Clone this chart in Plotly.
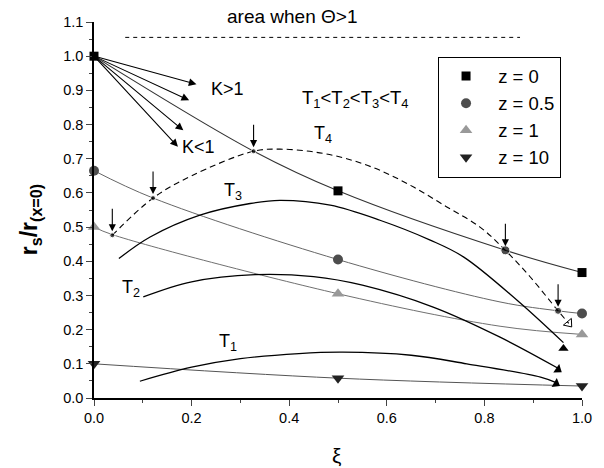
import plotly.graph_objects as go

# ---------------- data ----------------
z_labels = ["z = 0", "z = 0.5", "z = 1", "z = 10"]
xi_markers = [0.0, 0.5, 1.0]
z0_vals = [1.0, 0.606, 0.367]
z05_vals = [0.665, 0.405, 0.247]
z1_vals = [0.5, 0.305, 0.186]
z10_vals = [0.1, 0.058, 0.035]

# smooth z curves
z0_line_x = [0.0, 0.327, 0.5, 0.843, 1.0]
z0_line_y = [1.0, 0.722, 0.606, 0.432, 0.367]
z05_line_x = [0.0, 0.121, 0.5, 0.832, 0.951, 1.0]
z05_line_y = [0.665, 0.585, 0.405, 0.281, 0.255, 0.247]
z1_line_x = [0.0, 0.0375, 0.5, 0.832, 1.0]
z1_line_y = [0.5, 0.478, 0.305, 0.21, 0.186]
z10_line_x = [0.0, 0.5, 1.0]
z10_line_y = [0.1, 0.058, 0.035]

# temperature curves
T1_x = [0.094, 0.2, 0.3, 0.42, 0.51, 0.65, 0.764, 0.915, 0.947]
T1_y = [0.049, 0.09, 0.115, 0.13, 0.134, 0.125, 0.1, 0.061, 0.045]
T2_x = [0.101, 0.2, 0.33, 0.45, 0.55, 0.695, 0.832, 0.951]
T2_y = [0.296, 0.34, 0.361, 0.355, 0.33, 0.266, 0.178, 0.087]
T3_x = [0.051, 0.115, 0.217, 0.32, 0.381, 0.484, 0.586, 0.689, 0.757, 0.867, 0.962]
T3_y = [0.408, 0.471, 0.535, 0.569, 0.578, 0.564, 0.52, 0.462, 0.413, 0.286, 0.162]
T4_x = [0.0375, 0.121, 0.2, 0.327, 0.381, 0.45, 0.518, 0.586, 0.655, 0.723, 0.791, 0.843, 0.894, 0.951, 0.973]
T4_y = [0.476, 0.585, 0.65, 0.722, 0.728, 0.72, 0.70, 0.666, 0.617, 0.559, 0.50, 0.432, 0.354, 0.255, 0.218]

# curve-end markers (arrowheads)
T_end_x = [0.947, 0.951, 0.962]
T_end_y = [0.042, 0.083, 0.145]
T_end_angle = [30, 35, 0]
T_end_symbol = ["triangle-right", "triangle-right", "triangle-up"]
T4_end_x = [0.973]
T4_end_y = [0.218]

# intersection points marked with small arrows
cross_x = [0.0375, 0.121, 0.327, 0.843, 0.951]
cross_y = [0.476, 0.585, 0.722, 0.432, 0.255]
cross_size = [5, 5, 5, 9, 7]

# K arrows from (0, 1)
K_origin = (0.0, 1.0)
K_tip_x = [0.21, 0.195, 0.183, 0.172]
K_tip_y = [0.918, 0.871, 0.783, 0.735]

# "area when Theta>1" boundary
area_x = [0.064, 0.873]
area_y = [1.055, 1.055]

x_ticks = [0.0, 0.2, 0.4, 0.6, 0.8, 1.0]
y_ticks = [round(0.1 * i, 1) for i in range(12)]

FONT = "Liberation Sans, Arial, sans-serif"
NB = "\u00a0"

fig = go.Figure()

# z lines
for lx, ly, col, w in [
    (z0_line_x, z0_line_y, "#333333", 1.1),
    (z05_line_x, z05_line_y, "#666666", 1.0),
    (z1_line_x, z1_line_y, "#707070", 1.0),
    (z10_line_x, z10_line_y, "#555555", 1.0),
]:
    fig.add_trace(go.Scatter(x=lx, y=ly, mode="lines", line=dict(color=col, width=w, shape="spline"),
                             showlegend=False, hoverinfo="skip"))

# T curves
for tx, ty in [(T1_x, T1_y), (T2_x, T2_y), (T3_x, T3_y)]:
    fig.add_trace(go.Scatter(x=tx, y=ty, mode="lines", line=dict(color="black", width=1.3, shape="spline"),
                             showlegend=False, hoverinfo="skip"))
fig.add_trace(go.Scatter(x=T4_x, y=T4_y, mode="lines",
                         line=dict(color="black", width=1.1, shape="spline", dash="6px,4px"),
                         showlegend=False, hoverinfo="skip"))

# area dashed line
fig.add_trace(go.Scatter(x=area_x, y=area_y, mode="lines", line=dict(color="black", width=1, dash="4px,4px"),
                         showlegend=False, hoverinfo="skip", cliponaxis=False))

# end markers
fig.add_trace(go.Scatter(x=T_end_x, y=T_end_y, mode="markers",
                         marker=dict(symbol=T_end_symbol, angle=T_end_angle, size=9, color="black"),
                         showlegend=False, hoverinfo="skip", cliponaxis=False))
fig.add_trace(go.Scatter(x=T4_end_x, y=T4_end_y, mode="markers",
                         marker=dict(symbol="triangle-right-open", angle=50, size=9, color="black",
                                     line=dict(width=1, color="black")),
                         showlegend=False, hoverinfo="skip", cliponaxis=False))

# intersection dots
fig.add_trace(go.Scatter(x=cross_x, y=cross_y, mode="markers",
                         marker=dict(symbol="circle", size=cross_size, color="black"),
                         showlegend=False, hoverinfo="skip"))

# z markers (legend)
for vals, name, sym, col, sz in [
    (z0_vals, z_labels[0], "square", "black", 9),
    (z05_vals, z_labels[1], "circle", "#4d4d4d", 10),
    (z1_vals, z_labels[2], "triangle-up", "#999999", 11),
    (z10_vals, z_labels[3], "triangle-down", "#222222", 11),
]:
    fig.add_trace(go.Scatter(x=xi_markers, y=vals, mode="markers", name=NB + name,
                             marker=dict(symbol=sym, size=sz, color=col),
                             cliponaxis=False))

ann = []
# K arrows
for tx, ty in zip(K_tip_x, K_tip_y):
    ann.append(dict(x=tx, y=ty, ax=K_origin[0], ay=K_origin[1], xref="x", yref="y", axref="x", ayref="y",
                    showarrow=True, arrowhead=2, arrowsize=1.4, arrowwidth=1.1, arrowcolor="black", text=""))
# small down arrows
for cx, cy in zip(cross_x, cross_y):
    ann.append(dict(x=cx, y=cy, ax=0, ay=-28, xref="x", yref="y", showarrow=True, arrowhead=2,
                    arrowsize=1.3, arrowwidth=1.1, arrowcolor="black", standoff=4, text=""))

def txt(x, y, s, size=18, xa="center"):
    return dict(x=x, y=y, xref="x", yref="y", text=s, showarrow=False, xanchor=xa, yanchor="middle",
                font=dict(family=FONT, size=size, color="black"))

ann += [
    txt(0.274, 0.905, "K>1"),
    txt(0.215, 0.733, "K<1"),
    txt(0.535, 0.876, "T<sub>1</sub><T<sub>2</sub><T<sub>3</sub><T<sub>4</sub>", size=18.5),
    txt(0.47, 0.77, "T<sub>4</sub>"),
    txt(0.285, 0.605, "T<sub>3</sub>"),
    txt(0.075, 0.32, "T<sub>2</sub>"),
    txt(0.275, 0.162, "T<sub>1</sub>"),
    dict(x=0.406, y=1.015, xref="paper", yref="paper", text="area when Θ>1", showarrow=False,
         yanchor="middle", font=dict(family=FONT, size=19, color="black")),
    dict(x=-0.131, y=0.473, xref="paper", yref="paper", text="<b>r<sub>s</sub>/r<sub>(x=0)</sub></b>",
         textangle=-90, showarrow=False, xanchor="center", yanchor="middle",
         font=dict(family=FONT, size=23, color="black")),
    dict(x=0.497, y=-0.152, xref="paper", yref="paper", text="ξ", showarrow=False,
         xanchor="center", yanchor="middle", font=dict(family=FONT, size=21, color="black")),
]

fig.update_layout(
    width=604, height=468,
    margin=dict(l=94, r=22, t=22, b=70, pad=0),
    paper_bgcolor="white", plot_bgcolor="white",
    font=dict(family=FONT, size=14, color="black"),
    annotations=ann,
    legend=dict(x=0.705, y=0.908, xanchor="left", yanchor="top", bordercolor="black", borderwidth=1,
                bgcolor="white", font=dict(family=FONT, size=18.5, color="black"), itemwidth=44),
)
fig.update_xaxes(range=[0, 1.0], tickvals=x_ticks, tickformat=".1f", ticks="outside", ticklen=6, tickwidth=1.2,
                 showline=True, linecolor="black", linewidth=1.5, showgrid=False, zeroline=False,
                 minor=dict(dtick=0.1, ticks="outside", ticklen=3, tickwidth=1.2, showgrid=False),
                 tickfont=dict(size=14.5))
fig.update_yaxes(range=[0, 1.1], tickvals=y_ticks, tickformat=".1f", ticks="outside", ticklen=6, tickwidth=1.2,
                 showline=True, linecolor="black", linewidth=1.5, showgrid=False, zeroline=False,
                 minor=dict(dtick=0.05, ticks="outside", ticklen=3, tickwidth=1.2, showgrid=False),
                 tickfont=dict(size=14.5))

fig.write_html("out.html", config={"displayModeBar": False},
               post_script="document.body.style.margin='0px';")
